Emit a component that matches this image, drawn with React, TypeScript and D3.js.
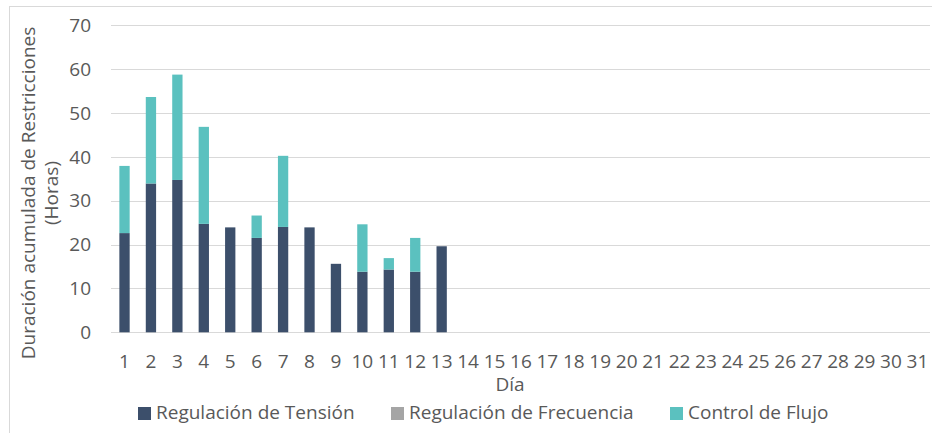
import React, { useRef, useEffect } from 'react';
import * as d3 from 'd3';

const days = d3.range(1, 32).map(String);
const tension = [22.6, 33.9, 34.7, 24.7, 23.9, 21.5, 24.0, 23.9, 15.6, 13.8, 14.3, 13.8, 19.6];
const frecuencia = [0, 0, 0, 0, 0, 0, 0, 0, 0, 0, 0, 0, 0];
const flujo = [15.3, 19.7, 24.0, 22.1, 0, 5.1, 16.2, 0, 0, 10.8, 2.6, 7.7, 0];
const yTicks = [0, 10, 20, 30, 40, 50, 60, 70];

const seriesNames = ['Regulación de Tensión', 'Regulación de Frecuencia', 'Control de Flujo'];
const seriesColors = ['#3c4f6b', '#a5a5a5', '#5bc1bf'];

const W = 932;
const H = 433;
const FONT = "'Open Sans', sans-serif";

const App = () => {
  const chartRef = useRef<SVGSVGElement>(null);

  useEffect(() => {
    if (!chartRef.current) return;
    const svg = d3.select(chartRef.current).html('');

    // outer frame
    svg.append('rect')
      .attr('x', 9.5).attr('y', 6.5)
      .attr('width', 940).attr('height', 440)
      .attr('fill', 'white').attr('stroke', '#d9d9d9');

    const x = d3.scaleBand()
      .domain(days)
      .range([111.3, 930.6])
      .paddingInner(0.61)
      .paddingOuter(0.305);

    const y = d3.scaleLinear().domain([0, 70]).range([332.3, 25]);

    // gridlines
    svg.append('g').selectAll('line')
      .data(yTicks)
      .enter().append('line')
      .attr('x1', 111).attr('x2', 930)
      .attr('y1', d => Math.round(y(d)) + 0.5)
      .attr('y2', d => Math.round(y(d)) + 0.5)
      .attr('stroke', '#d9d9d9').attr('stroke-width', 1);

    // y tick labels
    svg.append('g').selectAll('text')
      .data(yTicks)
      .enter().append('text')
      .attr('x', 91)
      .attr('y', d => y(d))
      .attr('dy', '0.36em')
      .attr('text-anchor', 'end')
      .attr('font-family', FONT).attr('font-size', 19)
      .attr('fill', '#595959')
      .text(d => d);

    const data = days.slice(0, tension.length).map((d, i) => ({
      day: d,
      tension: tension[i],
      frecuencia: frecuencia[i],
      flujo: flujo[i],
    }));

    const stacked = d3.stack<any>().keys(['tension', 'frecuencia', 'flujo'])(data);

    const groups = svg.append('g').selectAll('g')
      .data(stacked)
      .enter().append('g')
      .attr('fill', (_, i) => seriesColors[i]);

    groups.selectAll('rect')
      .data(d => d.filter(p => p[1] - p[0] > 0))
      .enter().append('rect')
      .attr('x', d => x(d.data.day)!)
      .attr('y', d => y(d[1]))
      .attr('width', x.bandwidth())
      .attr('height', d => y(d[0]) - y(d[1]));

    // x tick labels
    svg.append('g').selectAll('text')
      .data(days)
      .enter().append('text')
      .attr('x', d => x(d)! + x.bandwidth() / 2)
      .attr('y', 368)
      .attr('text-anchor', 'middle')
      .attr('font-family', FONT).attr('font-size', 19)
      .attr('fill', '#595959')
      .text(d => d);

    // axis titles
    svg.append('text')
      .attr('x', 510).attr('y', 391)
      .attr('text-anchor', 'middle')
      .attr('font-family', FONT).attr('font-size', 19)
      .attr('fill', '#595959')
      .text('Día');

    const yTitle = svg.append('text')
      .attr('transform', 'translate(35,193) rotate(-90)')
      .attr('text-anchor', 'middle')
      .attr('font-family', FONT).attr('font-size', 19)
      .attr('fill', '#595959');
    yTitle.append('tspan').attr('x', 0).attr('y', 0).text('Duración acumulada de Restricciones');
    yTitle.append('tspan').attr('x', 0).attr('y', 23).text('(Horas)');

    // legend
    const legendX = [138, 391, 670];
    const legend = svg.append('g').selectAll('g')
      .data(seriesNames)
      .enter().append('g')
      .attr('transform', (_, i) => `translate(${legendX[i]},0)`);

    legend.append('rect')
      .attr('x', 0).attr('y', 407)
      .attr('width', 13).attr('height', 13)
      .attr('fill', (_, i) => seriesColors[i]);

    legend.append('text')
      .attr('x', 18).attr('y', 419)
      .attr('font-family', FONT).attr('font-size', 19)
      .attr('fill', '#595959')
      .text(d => d);
  }, []);

  return (
    <div style={{ position: 'absolute', left: 0, top: 0, width: W, height: H, overflow: 'hidden' }}>
      <svg ref={chartRef} width={W} height={H} style={{ display: 'block' }}></svg>
    </div>
  );
};

export default App;
